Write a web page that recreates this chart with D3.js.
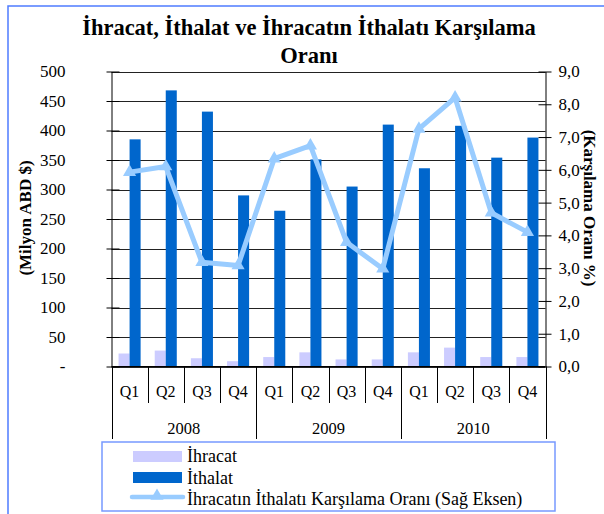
<!DOCTYPE html>
<html>
<head>
  <meta charset="UTF-8">
  <style>
    body { margin: 0; background: #fff; }
    svg { display: block; font-family: 'Liberation Serif', 'Times New Roman', serif; }
  </style>
</head>
<body>
<svg></svg>
<script src="https://d3js.org/d3.v7.min.js"></script>
<script>
    // ---- data
    const years = ["2008", "2009", "2010"];
    const quarters = ["Q1", "Q2", "Q3", "Q4"];
    const ihracat = [22, 27, 14, 9, 16, 24, 12, 12, 24, 32, 16, 16];
    const ithalat = [385, 468, 432, 290, 264, 351, 305, 410, 336, 408, 354, 388];
    const oran = [5.93, 6.1, 3.18, 3.08, 6.34, 6.74, 3.79, 2.98, 7.25, 8.2, 4.69, 4.1];
    const leftTicks = [0, 50, 100, 150, 200, 250, 300, 350, 400, 450, 500];
    const rightTicks = [0, 1, 2, 3, 4, 5, 6, 7, 8, 9];

    let width = 604, height = 514;
    let svg = d3.select("svg").attr("width", width).attr("height", height);

    // categories = year + quarter
    let cats = [];
    years.forEach(y => quarters.forEach(q => cats.push(y + "-" + q)));

    const pLeft = 111.5, pRight = 545.5, pTop = 71.5, pBottom = 366.5;

    let x = d3.scaleBand().domain(cats).range([pLeft, pRight]).padding(0);
    let xIn = d3.scaleBand().domain(["ihr", "ith"]).range([0, x.bandwidth()])
        .paddingInner(0).paddingOuter(0.64);
    let y = d3.scaleLinear().domain([0, 500]).range([pBottom, pTop]);
    let y2 = d3.scaleLinear().domain([0, 9]).range([pBottom, pTop]);

    // outer border (only top/left are visible in the picture)
    svg.append("rect").attr("x", 8).attr("y", 6).attr("width", 620).attr("height", 540)
        .attr("fill", "none").attr("stroke", "#4f7cff").attr("stroke-width", 1.5);

    // title
    let title = svg.append("text").attr("text-anchor", "middle")
        .attr("font-weight", "bold").attr("font-size", 22.5).attr("fill", "#000");
    title.append("tspan").attr("x", 309).attr("y", 35).text("İhracat, İthalat ve İhracatın İthalatı Karşılama");
    title.append("tspan").attr("x", 309).attr("y", 63).text("Oranı");

    // gridlines
    svg.append("g").selectAll("line").data(leftTicks).enter().append("line")
        .attr("x1", pLeft).attr("x2", pRight)
        .attr("y1", d => Math.round(y(d)) + 0.5).attr("y2", d => Math.round(y(d)) + 0.5)
        .attr("stroke", "#222").attr("stroke-width", 1);

    // bars
    let g = svg.append("g");
    g.selectAll(".ihr").data(ihracat).enter().append("rect")
        .attr("x", (d, i) => x(cats[i]) + xIn("ihr")).attr("width", xIn.bandwidth())
        .attr("y", d => y(d)).attr("height", d => y(0) - y(d)).attr("fill", "#ccccff");
    g.selectAll(".ith").data(ithalat).enter().append("rect")
        .attr("x", (d, i) => x(cats[i]) + xIn("ith")).attr("width", xIn.bandwidth())
        .attr("y", d => y(d)).attr("height", d => y(0) - y(d)).attr("fill", "#0066cc");

    // left axis
    let yAxis = d3.axisLeft(y).tickValues(leftTicks).tickSize(0)
        .tickFormat(d => d === 0 ? "-" : d);
    let ya = svg.append("g").attr("transform", "translate(" + pLeft + ",0)").call(yAxis);
    ya.attr("font-family", null);
    ya.select(".domain").attr("stroke", "#000");
    ya.selectAll("text").attr("x", -46).attr("font-size", 17).attr("fill", "#000");
    ya.selectAll(".tick").append("line").attr("x1", -5).attr("x2", 8).attr("stroke", "#000");

    // right axis
    let y2Axis = d3.axisRight(y2).tickValues(rightTicks).tickSize(0)
        .tickFormat(d => d3.format(".1f")(d).replace(".", ","));
    let ya2 = svg.append("g").attr("transform", "translate(" + pRight + ",0)").call(y2Axis);
    ya2.attr("font-family", null);
    ya2.select(".domain").attr("stroke", "#000");
    ya2.selectAll("text").attr("x", 13).attr("font-size", 17).attr("fill", "#000");
    ya2.selectAll(".tick").append("line").attr("x1", -7).attr("x2", 6).attr("stroke", "#000");

    // x axis line
    svg.append("line").attr("x1", pLeft).attr("x2", pRight).attr("y1", pBottom).attr("y2", pBottom)
        .attr("stroke", "#000");

    // category separators
    let seps = d3.range(cats.length + 1);
    svg.append("g").selectAll("line").data(seps).enter().append("line")
        .attr("x1", i => Math.round(pLeft + i * x.step()) + 0.5)
        .attr("x2", i => Math.round(pLeft + i * x.step()) + 0.5)
        .attr("y1", pBottom).attr("y2", i => i % 4 === 0 ? 439 : 403)
        .attr("stroke", "#000");

    // quarter labels
    svg.append("g").selectAll("text").data(cats).enter().append("text")
        .attr("x", d => x(d) + x.bandwidth() / 2).attr("y", 397)
        .attr("text-anchor", "middle").attr("font-size", 16).text(d => d.split("-")[1]);

    // year labels
    svg.append("g").selectAll("text").data(years).enter().append("text")
        .attr("x", d => (x(d + "-Q1") + x(d + "-Q4") + x.bandwidth()) / 2).attr("y", 434)
        .attr("text-anchor", "middle").attr("font-size", 16.5).text(d => d);

    // ratio line
    let line = d3.line().x((d, i) => x(cats[i]) + x.bandwidth() / 2).y(d => y2(d));
    svg.append("path").datum(oran).attr("d", line).attr("fill", "none")
        .attr("stroke", "#99ccff").attr("stroke-width", 5).attr("stroke-linejoin", "round");
    let tri = d3.symbol().type(d3.symbolTriangle).size(75);
    svg.append("g").selectAll("path").data(oran).enter().append("path")
        .attr("d", tri)
        .attr("transform", (d, i) => "translate(" + (x(cats[i]) + x.bandwidth() / 2) + "," + y2(d) + ")")
        .attr("fill", "#99ccff");

    // axis titles
    svg.append("text").attr("transform", "translate(31,218) rotate(-90)")
        .attr("text-anchor", "middle").attr("font-weight", "bold").attr("font-size", 17)
        .text("(Milyon ABD $)");
    svg.append("text").attr("transform", "translate(584,208) rotate(90)")
        .attr("text-anchor", "middle").attr("font-weight", "bold").attr("font-size", 17)
        .text("(Karşılama Oranı %)");

    // legend
    let lg = svg.append("g");
    lg.append("rect").attr("x", 102).attr("y", 442).attr("width", 453).attr("height", 69)
        .attr("fill", "#fff").attr("stroke", "#7799ff").attr("stroke-width", 1.5);
    let legendItems = ["İhracat", "İthalat", "İhracatın İthalatı Karşılama Oranı (Sağ Eksen)"];
    lg.append("rect").attr("x", 133).attr("y", 451).attr("width", 49).attr("height", 11).attr("fill", "#ccccff");
    lg.append("rect").attr("x", 133).attr("y", 472).attr("width", 49).attr("height", 11).attr("fill", "#0066cc");
    lg.append("line").attr("x1", 132).attr("x2", 183).attr("y1", 497).attr("y2", 497)
        .attr("stroke", "#99ccff").attr("stroke-width", 4.5).attr("stroke-linecap", "round");
    lg.append("path").attr("d", tri).attr("transform", "translate(157,496)").attr("fill", "#99ccff");
    lg.selectAll(".lt").data(legendItems).enter().append("text")
        .attr("x", 187).attr("y", (d, i) => 462 + i * 21.5).attr("font-size", 18).text(d => d);
</script>
</body>
</html>
